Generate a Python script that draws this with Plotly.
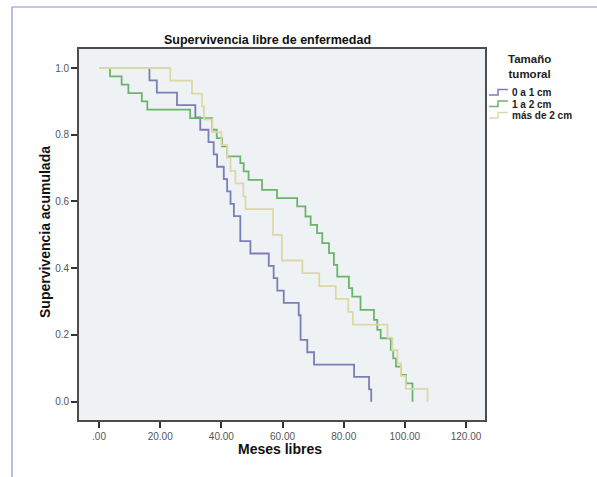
import plotly.graph_objects as go

# ---------------- data ----------------
chart_title = "Supervivencia libre de enfermedad"
x_title = "Meses libres"
y_title = "Supervivencia acumulada"
legend_title = "Tamaño<br>tumoral"
groups = ["0 a 1 cm", "1 a 2 cm", "más de 2 cm"]

x_ticks = [0, 20, 40, 60, 80, 100, 120]
x_ticktext = [".00", "20.00", "40.00", "60.00", "80.00", "100.00", "120.00"]
y_ticks = [0.0, 0.2, 0.4, 0.6, 0.8, 1.0]
y_ticktext = ["0.0", "0.2", "0.4", "0.6", "0.8", "1.0"]

t_0a1 = [0, 16.5, 18.9, 25.5, 31.5, 33.1, 35.8, 37.5, 38.6, 40.8, 41.9, 43.0, 44.1,
         46.2, 49.5, 55.5, 57.1, 58.3, 60.4, 65.3, 65.9, 68.1, 70.3, 83.4, 88.3, 89.0]
s_0a1 = [1.0, 0.963, 0.926, 0.889, 0.852, 0.815, 0.778, 0.741, 0.704, 0.667, 0.630, 0.593, 0.556,
         0.481, 0.444, 0.407, 0.370, 0.333, 0.296, 0.259, 0.185, 0.148, 0.111, 0.074, 0.037, 0.0]

t_1a2 = [0, 3.6, 7.4, 9.6, 14.0, 15.8, 29.8, 37.0, 38.5, 40.2, 41.9, 46.2, 47.3, 48.9,
         53.3, 58.2, 64.8, 67.5, 69.2, 71.3, 73.0, 75.2, 76.8, 77.9, 81.7, 82.8, 85.5,
         89.9, 91.0, 92.1, 95.4, 96.2, 97.1, 98.7, 100.4, 102.5]
s_1a2 = [1.0, 0.975, 0.95, 0.925, 0.90, 0.875, 0.85, 0.815, 0.79, 0.765, 0.735, 0.715, 0.69, 0.665,
         0.635, 0.61, 0.585, 0.555, 0.53, 0.505, 0.475, 0.445, 0.41, 0.375, 0.34, 0.315, 0.275,
         0.245, 0.215, 0.19, 0.155, 0.13, 0.105, 0.08, 0.055, 0.0]

t_mas2 = [0, 23.3, 30.4, 33.7, 34.3, 37.0, 40.0, 41.9, 43.0, 44.6, 47.2, 47.9, 56.9, 59.8,
          66.5, 72.0, 77.4, 81.5, 83.0, 94.3, 95.9, 97.6, 98.7, 100.3, 107.4]
s_mas2 = [1.0, 0.962, 0.923, 0.885, 0.846, 0.808, 0.769, 0.731, 0.692, 0.654, 0.615, 0.577, 0.5, 0.423,
          0.385, 0.346, 0.308, 0.269, 0.231, 0.192, 0.154, 0.115, 0.077, 0.038, 0.0]

series_t = [t_0a1, t_1a2, t_mas2]
series_s = [s_0a1, s_1a2, s_mas2]
colors = ["#7b7db6", "#6cb46c", "#dcd8a6"]

# ---------------- layout geometry ----------------
W, H = 597, 477
ML, MR, MT, MB = 79, 112, 49, 57
PW, PH = W - ML - MR, H - MT - MB
FONT = "Liberation Sans, Arial, Helvetica, sans-serif"


def px(x):
    return (x - ML) / PW


def py(y):
    return (H - MB - y) / PH


fig = go.Figure()
for name, t, s, c in zip(groups, series_t, series_s, colors):
    fig.add_trace(go.Scatter(x=t, y=s, mode="lines", name=name,
                             line=dict(color=c, width=1.8, shape="hv"),
                             showlegend=False))


def ann(text, x, y, size, color="#111", **kw):
    d = dict(text=text, x=px(x), y=py(y), xref="paper", yref="paper",
             showarrow=False, xanchor="center", yanchor="middle",
             font=dict(size=size, color=color, family=FONT))
    d.update(kw)
    return d


annotations = [
    ann("<b>%s</b>" % chart_title, 267, 40, 12.5),
    ann("<b>%s</b>" % x_title, 280, 449, 14),
    ann("<b>%s</b>" % y_title, 45, 232, 14, textangle=-90),
    ann("<b>%s</b>" % legend_title, 529, 67, 11.5, color="#222", align="center"),
]

shapes = [
    # page frame lines (top and left)
    dict(type="line", xref="paper", yref="paper", x0=px(12), x1=px(597), y0=py(7), y1=py(7),
         line=dict(color="#8c8fd9", width=1.2)),
    dict(type="line", xref="paper", yref="paper", x0=px(12), x1=px(12), y0=py(7), y1=py(477),
         line=dict(color="#8c8fd9", width=1.2)),
]

item_y = [92.5, 104, 115.5]
for name, c, yy in zip(groups, colors, item_y):
    annotations.append(ann("<b>%s</b>" % name, 510, yy, 10, color="#222", xanchor="left"))
    path = "M %f %f L %f %f L %f %f L %f %f" % (
        px(489), py(yy + 2.5), px(498), py(yy + 2.5), px(498), py(yy - 3), px(508), py(yy - 3))
    shapes.append(dict(type="path", xref="paper", yref="paper", path=path,
                       line=dict(color=c, width=1.5)))

axis_common = dict(showline=True, mirror=True, linecolor="#4d4d4d", linewidth=1.6,
                   showgrid=False, zeroline=False, ticks="outside", ticklen=6,
                   tickwidth=1.8, tickcolor="#333",
                   tickfont=dict(size=10, color="#555", family=FONT))

fig.update_layout(
    width=W, height=H,
    margin=dict(l=ML, r=MR, t=MT, b=MB, pad=0),
    paper_bgcolor="white",
    plot_bgcolor="#eff2f4",
    showlegend=False,
    xaxis=dict(range=[-6.54, 126.2], tickvals=x_ticks, ticktext=x_ticktext, **axis_common),
    yaxis=dict(range=[-0.055, 1.057], tickvals=y_ticks, ticktext=y_ticktext, **axis_common),
    annotations=annotations,
    shapes=shapes,
)

fig.write_html("out.html", config={"displayModeBar": False},
               post_script="document.body.style.margin='0';")
